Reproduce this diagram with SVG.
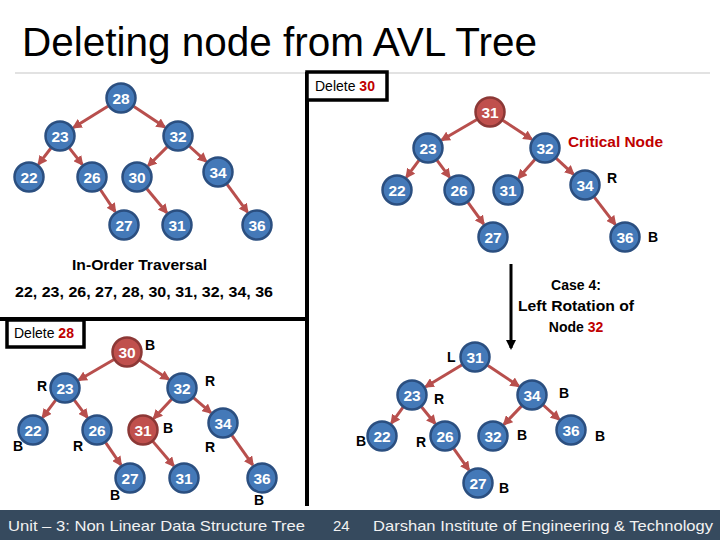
<svg xmlns="http://www.w3.org/2000/svg" width="720" height="540" viewBox="0 0 720 540">
<defs>
<marker id="ah" viewBox="0 0 10 10" markerUnits="userSpaceOnUse" markerWidth="10" markerHeight="10" refX="8" refY="5" orient="auto">
<path d="M0,0 L10,5 L0,10 z" fill="#b84f4d"/>
</marker>
<marker id="ahk" viewBox="0 0 10 10" markerUnits="userSpaceOnUse" markerWidth="10" markerHeight="10" refX="8" refY="5" orient="auto">
<path d="M0,0 L10,5 L0,10 z" fill="#000"/>
</marker>
</defs>
<style>
.n circle{fill:#4479b8;stroke:#2b4f80;stroke-width:2.5}
.r circle{fill:#c0504d;stroke:#8c3836;stroke-width:2.5}
.n text,.r text{font-family:"Liberation Sans",Arial,sans-serif;font-weight:bold;font-size:15.5px;fill:#fff;text-anchor:middle}
.e line{stroke:#b84f4d;stroke-width:3;marker-end:url(#ah)}
.lb{font-family:"Liberation Sans",Arial,sans-serif;font-weight:bold;font-size:14px;fill:#000}
.t{font-family:"Liberation Sans",Arial,sans-serif;font-size:14px;fill:#000}
.red{fill:#c00000;font-weight:bold}
.ft{font-family:"Liberation Sans",Arial,sans-serif;font-size:15px;fill:#f2f2f2}
</style>
<rect width="720" height="540" fill="#fff"/>
<text x="22" y="56" font-family="Liberation Sans,Arial,sans-serif" font-size="40" textLength="515" lengthAdjust="spacingAndGlyphs" fill="#000">Deleting node from AVL Tree</text>
<line x1="15" y1="73" x2="710" y2="73" stroke="#d9d9d9" stroke-width="1.5"/>

<g id="frame">
<line x1="307" y1="72" x2="307" y2="506" stroke="#000" stroke-width="4"/>
<line x1="0" y1="319" x2="307" y2="319" stroke="#000" stroke-width="4"/>
</g>

<g id="connectors" class="e">
<!-- top-left -->
<line x1="108.3" y1="105.9" x2="73.6" y2="127.5"/>
<line x1="133.5" y1="106.3" x2="164.7" y2="127.1"/>
<line x1="51" y1="148" x2="38.6" y2="164.2"/>
<line x1="69.2" y1="147.8" x2="82.2" y2="164.4"/>
<line x1="100.3" y1="189.5" x2="115.1" y2="211.7"/>
<line x1="167.4" y1="146.6" x2="148.3" y2="165.7"/>
<line x1="189.1" y1="146" x2="206.1" y2="161.3"/>
<line x1="146.6" y1="188.5" x2="166.8" y2="212.7"/>
<line x1="226.9" y1="184.1" x2="247.5" y2="212.1"/>
<!-- top-right -->
<line x1="477" y1="119.5" x2="441.8" y2="140"/>
<line x1="502.6" y1="120.2" x2="531.6" y2="139.2"/>
<line x1="419.1" y1="160.1" x2="406.5" y2="177.1"/>
<line x1="436.9" y1="160.1" x2="449.5" y2="177.1"/>
<line x1="467.8" y1="202.2" x2="483.6" y2="224"/>
<line x1="535.1" y1="159.3" x2="518.6" y2="178"/>
<line x1="556" y1="158.2" x2="573.3" y2="174.1"/>
<line x1="594.1" y1="196.9" x2="615.2" y2="224.3"/>
<!-- bottom-left -->
<line x1="114" y1="359.5" x2="78.8" y2="380"/>
<line x1="139.6" y1="360.2" x2="168.6" y2="379.2"/>
<line x1="55.9" y1="399.9" x2="42.7" y2="417.3"/>
<line x1="74.1" y1="399.9" x2="87.3" y2="417.3"/>
<line x1="105.5" y1="442.4" x2="120.9" y2="464.8"/>
<line x1="171.8" y1="399" x2="153.9" y2="418.3"/>
<line x1="193.4" y1="397.7" x2="210.8" y2="412.6"/>
<line x1="152.8" y1="441.4" x2="173.6" y2="465.8"/>
<line x1="231.7" y1="435.2" x2="252.7" y2="464.9"/>
<!-- bottom-right -->
<line x1="462.2" y1="364.7" x2="425.7" y2="386.7"/>
<line x1="487.5" y1="365.3" x2="518.7" y2="386.1"/>
<line x1="403.1" y1="407.1" x2="391.5" y2="423.1"/>
<line x1="421.4" y1="406.7" x2="435" y2="423.5"/>
<line x1="453.6" y1="448.3" x2="468.8" y2="469.9"/>
<line x1="521.7" y1="405.9" x2="504" y2="424.4"/>
<line x1="543.2" y1="405" x2="559.1" y2="419.3"/>
<!-- rotation arrow -->
<line x1="511" y1="264" x2="511" y2="348" style="stroke:#000;stroke-width:3;marker-end:url(#ahk)"/>
</g>

<!-- top-left tree -->
<g id="tl28" class="n"><circle cx="121" cy="98" r="14.5"/><text x="121" y="103.5">28</text></g>
<g id="tl23" class="n"><circle cx="60" cy="136" r="14.5"/><text x="60" y="141.5">23</text></g>
<g id="tl32" class="n"><circle cx="178" cy="136" r="14.5"/><text x="178" y="141.5">32</text></g>
<g id="tl22" class="n"><circle cx="29" cy="177" r="14.5"/><text x="29" y="182.5">22</text></g>
<g id="tl26" class="n"><circle cx="92" cy="177" r="14.5"/><text x="92" y="182.5">26</text></g>
<g id="tl30" class="n"><circle cx="137" cy="177" r="14.5"/><text x="137" y="182.5">30</text></g>
<g id="tl34" class="n"><circle cx="218" cy="172" r="14.5"/><text x="218" y="177.5">34</text></g>
<g id="tl27" class="n"><circle cx="124" cy="225" r="14.5"/><text x="124" y="230.5">27</text></g>
<g id="tl31" class="n"><circle cx="177" cy="225" r="14.5"/><text x="177" y="230.5">31</text></g>
<g id="tl36" class="n"><circle cx="257" cy="225" r="14.5"/><text x="257" y="230.5">36</text></g>

<!-- top-right tree -->
<g id="tr31" class="r"><circle cx="490" cy="112" r="14.5"/><text x="490" y="117.5">31</text></g>
<g id="tr23" class="n"><circle cx="428" cy="148" r="14.5"/><text x="428" y="153.5">23</text></g>
<g id="tr32" class="n"><circle cx="545" cy="148" r="14.5"/><text x="545" y="153.5">32</text></g>
<g id="tr22" class="n"><circle cx="397" cy="190" r="14.5"/><text x="397" y="195.5">22</text></g>
<g id="tr26" class="n"><circle cx="459" cy="190" r="14.5"/><text x="459" y="195.5">26</text></g>
<g id="tr31b" class="n"><circle cx="508" cy="190" r="14.5"/><text x="508" y="195.5">31</text></g>
<g id="tr34" class="n"><circle cx="585" cy="185" r="14.5"/><text x="585" y="190.5">34</text></g>
<g id="tr27" class="n"><circle cx="493" cy="237" r="14.5"/><text x="493" y="242.5">27</text></g>
<g id="tr36" class="n"><circle cx="625" cy="237" r="14.5"/><text x="625" y="242.5">36</text></g>

<!-- bottom-left tree -->
<g id="bl30" class="r"><circle cx="127" cy="352" r="14.5"/><text x="127" y="357.5">30</text></g>
<g id="bl23" class="n"><circle cx="65" cy="388" r="14.5"/><text x="65" y="393.5">23</text></g>
<g id="bl32" class="n"><circle cx="182" cy="388" r="14.5"/><text x="182" y="393.5">32</text></g>
<g id="bl22" class="n"><circle cx="33" cy="430" r="14.5"/><text x="33" y="435.5">22</text></g>
<g id="bl26" class="n"><circle cx="97" cy="430" r="14.5"/><text x="97" y="435.5">26</text></g>
<g id="bl31r" class="r"><circle cx="143" cy="430" r="14.5"/><text x="143" y="435.5">31</text></g>
<g id="bl34" class="n"><circle cx="223" cy="423" r="14.5"/><text x="223" y="428.5">34</text></g>
<g id="bl27" class="n"><circle cx="130" cy="478" r="14.5"/><text x="130" y="483.5">27</text></g>
<g id="bl31" class="n"><circle cx="184" cy="478" r="14.5"/><text x="184" y="483.5">31</text></g>
<g id="bl36" class="n"><circle cx="262" cy="478" r="14.5"/><text x="262" y="483.5">36</text></g>

<!-- bottom-right tree -->
<g id="br31" class="n"><circle cx="475" cy="357" r="14.5"/><text x="475" y="362.5">31</text></g>
<g id="br23" class="n"><circle cx="412" cy="395" r="14.5"/><text x="412" y="400.5">23</text></g>
<g id="br34" class="n"><circle cx="532" cy="395" r="14.5"/><text x="532" y="400.5">34</text></g>
<g id="br22" class="n"><circle cx="382" cy="436" r="14.5"/><text x="382" y="441.5">22</text></g>
<g id="br26" class="n"><circle cx="445" cy="436" r="14.5"/><text x="445" y="441.5">26</text></g>
<g id="br32" class="n"><circle cx="493" cy="436" r="14.5"/><text x="493" y="441.5">32</text></g>
<g id="br36" class="n"><circle cx="571" cy="430" r="14.5"/><text x="571" y="435.5">36</text></g>
<g id="br27" class="n"><circle cx="478" cy="483" r="14.5"/><text x="478" y="488.5">27</text></g>

<!-- boxes -->
<g id="del30">
<rect x="307" y="72" width="80" height="28" fill="#fff" stroke="#000" stroke-width="3.5"/>
<text class="t" x="315" y="91">Delete <tspan class="red">30</tspan></text>
</g>
<g id="del28">
<rect x="7" y="320" width="77" height="27" fill="#fff" stroke="#000" stroke-width="3.5"/>
<text class="t" x="14" y="338">Delete <tspan class="red">28</tspan></text>
</g>

<!-- labels -->
<text class="lb" x="568" y="147" style="fill:#c00000" textLength="95" lengthAdjust="spacingAndGlyphs">Critical Node</text>
<text class="lb" x="607" y="183">R</text>
<text class="lb" x="648" y="242">B</text>

<text class="lb" x="72" y="270" textLength="135" lengthAdjust="spacingAndGlyphs">In-Order Traversal</text>
<text class="lb" x="15" y="297" textLength="258" lengthAdjust="spacingAndGlyphs">22, 23, 26, 27, 28, 30, 31, 32, 34, 36</text>

<text class="lb" x="576" y="290" text-anchor="middle">Case 4:</text>
<text class="lb" x="576" y="311" text-anchor="middle" textLength="116" lengthAdjust="spacingAndGlyphs">Left Rotation of</text>
<text class="lb" x="576" y="332" text-anchor="middle">Node <tspan fill="#c00000">32</tspan></text>

<text class="lb" x="145" y="350">B</text>
<text class="lb" x="37" y="391">R</text>
<text class="lb" x="205" y="386">R</text>
<text class="lb" x="13" y="451">B</text>
<text class="lb" x="73" y="451">R</text>
<text class="lb" x="163" y="433">B</text>
<text class="lb" x="205" y="452">R</text>
<text class="lb" x="110" y="500">B</text>
<text class="lb" x="254" y="505">B</text>

<text class="lb" x="447" y="362">L</text>
<text class="lb" x="434" y="404">R</text>
<text class="lb" x="559" y="398">B</text>
<text class="lb" x="356" y="446">B</text>
<text class="lb" x="416" y="447">R</text>
<text class="lb" x="517" y="440">B</text>
<text class="lb" x="595" y="441">B</text>
<text class="lb" x="499" y="493">B</text>

<!-- footer -->
<rect x="0" y="510" width="720" height="30" fill="#364a5e"/>
<text class="ft" x="8" y="531" textLength="297" lengthAdjust="spacingAndGlyphs">Unit – 3: Non Linear Data Structure  Tree</text>
<text class="ft" x="333" y="531">24</text>
<text class="ft" x="373" y="531" textLength="340" lengthAdjust="spacingAndGlyphs">Darshan Institute of Engineering &amp; Technology</text>
</svg>
